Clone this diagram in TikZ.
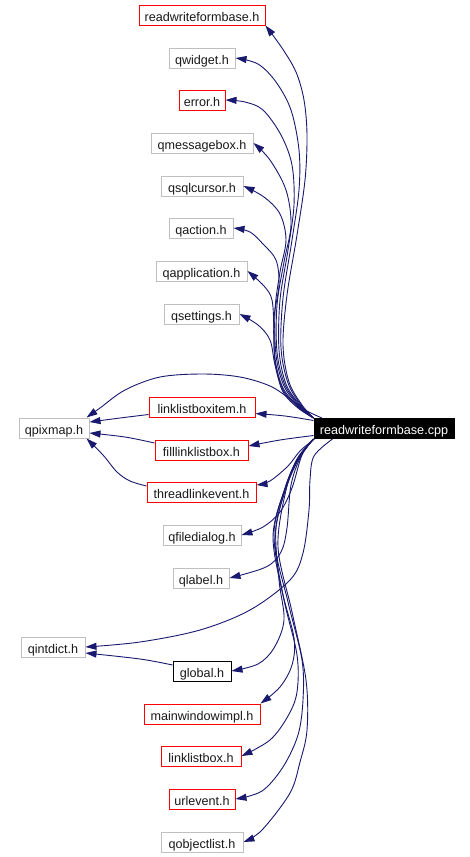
\documentclass[tikz,border=0pt]{standalone}
\usepackage{fontspec}
\setmainfont{Liberation Sans}
\usetikzlibrary{arrows.meta}
\definecolor{edgeblue}{HTML}{191970}
\definecolor{boxgray}{HTML}{BFBFBF}
\tikzset{
  hbox/.style={draw, line width=1pt, inner sep=0pt, minimum height=20pt, text=black!90,
    text height=12pt, text depth=0pt,
    font=\fontsize{12.6}{14}\selectfont},
  graybox/.style={hbox, draw=boxgray},
  redbox/.style={hbox, draw=red},
  blackbox/.style={hbox, draw=black},
  rootbox/.style={hbox, draw=black, fill=black, text=white},
  edge/.style={draw=edgeblue, line width=0.9pt, -{Triangle[length=11pt,width=7pt]}},
}
\begin{document}
\begin{tikzpicture}[x=1pt,y=-1pt]
\useasboundingbox[fill=white] (0,0) rectangle (470,857);
% nodes
\node[redbox,   minimum width=126pt] (rwfb)  at (202,15)   {readwriteformbase.h};
\node[graybox,  minimum width=66pt]  (qwid)  at (202,58)   {qwidget.h};
\node[redbox,   minimum width=46pt]  (err)   at (202,100)  {error.h};
\node[graybox,  minimum width=102pt] (qmsg)  at (202,143)  {qmessagebox.h};
\node[graybox,  minimum width=82pt]  (qsql)  at (202,186)  {qsqlcursor.h};
\node[graybox,  minimum width=64pt]  (qact)  at (201,228)  {qaction.h};
\node[graybox,  minimum width=91pt]  (qapp)  at (201.5,271) {qapplication.h};
\node[graybox,  minimum width=75pt]  (qset)  at (201.5,314) {qsettings.h};
\node[redbox,   minimum width=106pt] (lbi)   at (202,407.5) {linklistboxitem.h};
\node[graybox,  minimum width=70pt]  (qpix)  at (54,428)   {qpixmap.h};
\node[rootbox,  minimum width=140pt] (root)  at (384,428.5) {readwriteformbase.cpp};
\node[redbox,   minimum width=93pt]  (flb)   at (201.5,450) {filllinklistbox.h};
\node[redbox,   minimum width=109pt] (tle)   at (201.5,492) {threadlinkevent.h};
\node[graybox,  minimum width=78pt]  (qfd)   at (202,535)  {qfiledialog.h};
\node[graybox,  minimum width=56pt]  (qlab)  at (201,578)  {qlabel.h};
\node[graybox,  minimum width=64pt]  (qint)  at (53,647)   {qintdict.h};
\node[blackbox, minimum width=58pt]  (glob)  at (202,671)  {global.h};
\node[redbox,   minimum width=116pt] (mwi)   at (202,714)  {mainwindowimpl.h};
\node[redbox,   minimum width=80pt]  (llb)   at (201,756)  {linklistbox.h};
\node[redbox,   minimum width=66pt]  (url)   at (202,799)  {urlevent.h};
\node[graybox,  minimum width=82pt]  (qobj)  at (202,842)  {qobjectlist.h};
% upper edges
\draw[edge] plot[smooth, tension=0.55] coordinates {(root.north west) (302,405) (289,382) (283,345) (287,295) (297,235) (305,180) (307,135) (304,100) (296,72) (282,48) (rwfb.south east)};
\draw[edge] plot[smooth, tension=0.55] coordinates {(root.north west) (301,405) (288,383) (281,348) (283,298) (292,240) (299,190) (299,150) (291,110) (276,82) (258,64) (qwid.east)};
\draw[edge] plot[smooth, tension=0.55] coordinates {(root.north west) (300,405) (286,384) (279,350) (280,300) (288,250) (294,205) (292,165) (281,135) (263,110) (245,102) (err.east)};
\draw[edge] plot[smooth, tension=0.55] coordinates {(root.north west) (300,406) (285,385) (277,352) (277,305) (284,262) (291,225) (286,190) (270,160) (qmsg.east)};
\draw[edge] plot[smooth, tension=0.55] coordinates {(root.north west) (299,406) (284,386) (276,355) (275,310) (280,272) (286,240) (280,214) (264,197) (qsql.east)};
\draw[edge] plot[smooth, tension=0.55] coordinates {(root.north west) (299,407) (283,388) (275,358) (274,318) (279,285) (276,260) (263,244) (250,232) (qact.east)};
\draw[edge] plot[smooth, tension=0.55] coordinates {(root.north west) (298,407) (283,390) (275,362) (274,330) (272,300) (264,286) (qapp.east)};
\draw[edge] plot[smooth, tension=0.55] coordinates {(root.north west) (298,408) (283,392) (275,365) (270,340) (258,325) (qset.east)};
% qpixmap group
\draw[edge] plot[smooth, tension=0.55] coordinates {([xshift=-62pt]root.north) (305,410) (290,399) (270,386) (240,377) (203,374) (160,377) (125,390) (100,408) ([xshift=-3pt]qpix.north east)};
\draw[edge] plot[smooth, tension=0.55] coordinates {([yshift=8pt]root.west) (285,416) ([yshift=-6pt]lbi.east)};
\draw[edge] plot[smooth, tension=0.55] coordinates {([yshift=-7pt]lbi.west) (120,418) ([yshift=6pt]qpix.east)};
\draw[edge] plot[smooth, tension=0.55] coordinates {([yshift=-7pt]root.west) (280,440) ([yshift=4pt]flb.east)};
\draw[edge] plot[smooth, tension=0.55] coordinates {([yshift=7pt]flb.west) (125,437) ([yshift=-5pt]qpix.east)};
\draw[edge] plot[smooth, tension=0.55] coordinates {([xshift=1pt]root.south west) (300,451) (288,466) (270,481) ([yshift=7pt]tle.east)};
\draw[edge] plot[smooth, tension=0.55] coordinates {([yshift=6pt]tle.west) (130,481) (117,472) (103,455) ([xshift=-3pt]qpix.south east)};
% qintdict group
\draw[edge] plot[smooth, tension=0.55] coordinates {([xshift=19pt]root.south west) (314,456) (310,480) (309,510) (303,553) (290,580) (250,610) (200,630) (140,642) (qint.east)};
\draw[edge] plot[smooth, tension=0.55] coordinates {([yshift=6pt]glob.west) (140,659) ([yshift=-6pt]qint.east)};
% lower edges
\draw[edge] plot[smooth, tension=0.55] coordinates {(root.south west) (302,455) (292,488) (280,512) (263,527) (qfd.east)};
\draw[edge] plot[smooth, tension=0.55] coordinates {(root.south west) (301,456) (291,485) (287,528) (281,552) (266,567) (qlab.east)};
\draw[edge] plot[smooth, tension=0.55] coordinates {(root.south west) (300,457) (288,483) (276,527) (279,580) (284,620) (274,648) (258,664) (glob.east)};
\draw[edge] plot[smooth, tension=0.55] coordinates {(root.south west) (299,458) (286,486) (274,532) (282,590) (294,638) (292,665) (280,687) (mwi.north east)};
\draw[edge] plot[smooth, tension=0.55] coordinates {(root.south west) (298,458) (285,488) (273,537) (284,600) (297,655) (297,692) (288,716) (270,740) (llb.east)};
\draw[edge] plot[smooth, tension=0.55] coordinates {(root.south west) (298,459) (285,489) (275,542) (288,602) (302,660) (303,700) (298,735) (283,767) (262,791) (url.east)};
\draw[edge] plot[smooth, tension=0.55] coordinates {(root.south west) (297,459) (286,490) (278,547) (292,612) (306,680) (307,730) (300,762) (290,793) (262,830) (qobj.east)};
\end{tikzpicture}
\end{document}
